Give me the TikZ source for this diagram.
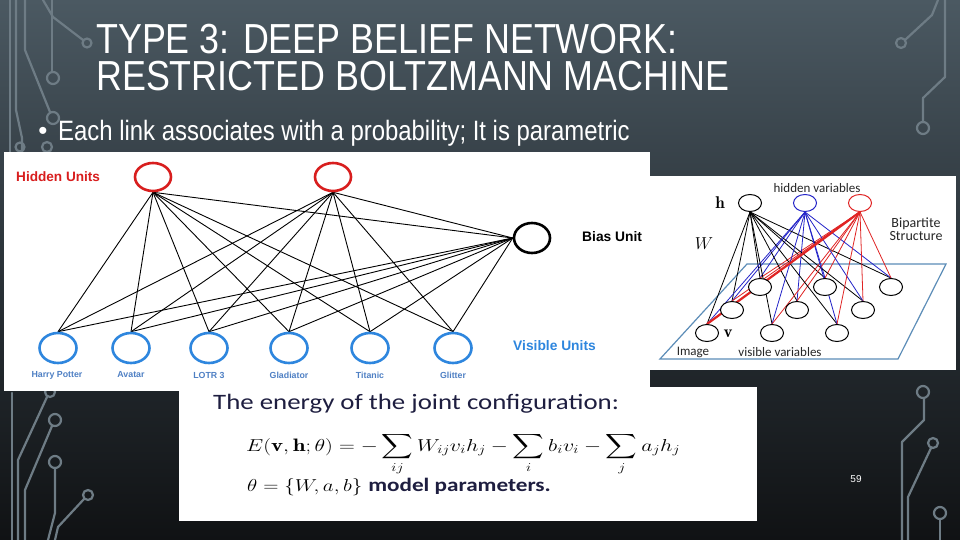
\documentclass[tikz,border=0pt]{standalone}
\usepackage{amsmath}
\usepackage{fontspec}
\newfontfamily\arialf{Liberation Sans}
\newfontfamily\narrowsans[FakeStretch=0.854]{Liberation Sans}
\newfontfamily\calib{Carlito}
\usetikzlibrary{shapes.geometric}
\definecolor{bgtop}{HTML}{4B5962}
\definecolor{bgmid}{HTML}{2A3238}
\definecolor{bgbot}{HTML}{101214}
\definecolor{trace}{HTML}{6E7C85}
\definecolor{hidred}{HTML}{D81E1E}
\definecolor{visblue}{HTML}{2E86DE}
\definecolor{labblue}{HTML}{4F80C4}
\definecolor{planeblue}{HTML}{5C8DB8}
\definecolor{rbmblue}{HTML}{2424C8}
\definecolor{rbmred}{HTML}{E02424}
\definecolor{navy}{HTML}{1E1E40}
\pgfdeclarelayer{back}
\pgfdeclarelayer{lines}
\pgfsetlayers{back,lines,main}
\newcommand\hstretch[1]{\scalebox{1.22}[1]{#1}}
\tikzset{
  ttl/.style={anchor=north west, inner sep=0, align=left, text=white, font=\narrowsans\fontsize{42}{37}\selectfont},
  bullettxt/.style={anchor=base west, inner sep=0, text=white, font=\narrowsans\fontsize{28}{28}\selectfont},
  trc/.style={draw=trace, line width=2.2pt, line cap=round, line join=round},
  whitebox/.style={fill=white, draw=none},
  hidunit/.style={ellipse, draw=hidred, line width=2.6pt, minimum width=36pt, minimum height=28pt, inner sep=0},
  visunit/.style={ellipse, draw=visblue, line width=2.6pt, minimum width=37pt, minimum height=30pt, inner sep=0},
  biasunit/.style={ellipse, draw=black, line width=2.6pt, minimum width=36pt, minimum height=30pt, inner sep=0},
  edge/.style={draw=black, line width=0.9pt},
  movielab/.style={text=labblue, font=\arialf\bfseries\fontsize{8.8}{9}\selectfont, inner sep=0},
  rbmnode/.style={ellipse, fill=white, line width=1pt, minimum width=23pt, minimum height=17pt, inner sep=0},
  rbmtxt/.style={text=black!85, font=\calib\fontsize{13}{13.5}\selectfont, inner sep=0},
  redge/.style={line width=0.8pt},
}
\begin{document}
\begin{tikzpicture}[x=1pt,y=-1pt]
\useasboundingbox (0,0) rectangle (960,540);
\begin{pgfonlayer}{back}
  \shade[top color=bgtop, bottom color=bgbot, middle color=bgmid] (0,0) rectangle (960,540);
  % circuit traces, top left
  \draw[trc] (10,0) -- (10,152);
  \draw[trc] (16,0) -- (16,110) -- (22,138) -- (22,152);
  \draw[trc] (25,0) -- (25,50) -- (50,112);
  \draw[trc] (53,118) circle[radius=6];
  \draw[trc] (43,0) -- (53,17) -- (83,40);
  \draw[trc] (87,43) circle[radius=4.5];
  \draw[trc] (52,0) -- (52,72);
  \draw[trc] (53,78) circle[radius=6];
  \draw[trc] (20,147) circle[radius=4.5];
  \draw[trc] (47,147) circle[radius=5];
  % bottom left
  \draw[trc] (12,393) -- (12,540);
  \draw[trc] (50,392) circle[radius=5];
  \draw[trc] (47,397) -- (18,460) -- (18,540);
  \draw[trc] (55,420) circle[radius=6];
  \draw[trc] (52,426) -- (25,490) -- (25,540);
  \draw[trc] (55,462) circle[radius=6];
  \draw[trc] (55,468) -- (55,513) -- (48,540);
  \draw[trc] (88,495) circle[radius=5];
  \draw[trc] (84,499) -- (58,527) -- (55,540);
  % top right
  \draw[trc] (938,0) -- (932,15) -- (905,40);
  \draw[trc] (901,43) circle[radius=5];
  \draw[trc] (945,0) -- (945,77) -- (923,98) -- (923,122);
  \draw[trc] (923,128) circle[radius=6];
  % bottom right
  \draw[trc] (923,392) circle[radius=6];
  \draw[trc] (924,398) -- (924,420) -- (902,442) -- (902,540);
  \draw[trc] (933,443) circle[radius=5];
  \draw[trc] (931,448) -- (908,497) -- (908,540);
  \draw[trc] (940,513) circle[radius=6];
  \draw[trc] (940,519) -- (940,540);
  % white picture panels
  \fill[whitebox] (4,152) rectangle (650,391);
  \fill[whitebox] (650,176) rectangle (956,370);
  \fill[whitebox] (179,387) rectangle (757,521);
  % plane of the RBM sketch
  \draw[draw=planeblue, line width=1.2pt] (747,264) -- (946,264) -- (898,359) -- (660,359) -- cycle;
\end{pgfonlayer}

% title and bullet
\node[ttl] (title) at (96,24) {TYPE 3: DEEP BELIEF NETWORK:\\RESTRICTED BOLTZMANN MACHINE};
\node[text=white, font=\arialf\fontsize{26}{26}\selectfont, inner sep=0] (bul) at (43,133) {•};
\node[bullettxt] (btxt) at (58,141) {Each link associates with a probability; It is parametric};

% ---------- panel 1: movie RBM ----------
\node[hidunit] (h1) at (153,177) {};
\node[hidunit] (h2) at (333,177) {};
\node[biasunit] (bu) at (532,238) {};
\node[visunit] (v1) at (58,348) {};
\node[visunit] (v2) at (131,348) {};
\node[visunit] (v3) at (209,348) {};
\node[visunit] (v4) at (289,348) {};
\node[visunit] (v5) at (370,348) {};
\node[visunit] (v6) at (453,348) {};
\node[movielab] (l1) at (57,375) {Harry Potter};
\node[movielab] (l2) at (131,375) {Avatar};
\node[movielab] (l3) at (209,375) {LOTR 3};
\node[movielab] (l4) at (289,375) {Gladiator};
\node[movielab] (l5) at (370,375) {Titanic};
\node[movielab] (l6) at (453,375) {Glitter};
\node[anchor=west, inner sep=0, text=hidred, font=\arialf\bfseries\fontsize{13.6}{14}\selectfont] (hl) at (16,177) {Hidden Units};
\node[anchor=west, inner sep=0, text=black, font=\arialf\bfseries\fontsize{13.8}{14}\selectfont] (bl) at (582,237) {Bias Unit};
\node[anchor=west, inner sep=0, text=visblue, font=\arialf\bfseries\fontsize{13.8}{14}\selectfont] (vl) at (513,346) {Visible Units};
\begin{pgfonlayer}{lines}
  \foreach \h in {h1,h2}{
    \foreach \v in {v1,v2,v3,v4,v5,v6}{
      \draw[edge] (\h.south) -- (\v.north);
    }
    \draw[edge] (\h.south) -- (bu.west);
  }
  \foreach \v in {v1,v2,v3,v4,v5,v6}{
    \draw[edge] (bu.west) -- (\v.north);
  }
\end{pgfonlayer}

% ---------- panel 2: bipartite sketch ----------
\node[rbmnode, draw=black] (hk) at (750,203) {};
\node[rbmnode, draw=rbmblue] (hu) at (805,203) {};
\node[rbmnode, draw=rbmred] (hr) at (860,203) {};
\node[rbmnode, draw=black] (a1) at (760,287) {};
\node[rbmnode, draw=black] (a2) at (825,287) {};
\node[rbmnode, draw=black] (a3) at (891,287) {};
\node[rbmnode, draw=black] (b1) at (732,310) {};
\node[rbmnode, draw=black] (b2) at (797,310) {};
\node[rbmnode, draw=black] (b3) at (863,310) {};
\node[rbmnode, draw=black] (c1) at (707,333) {};
\node[rbmnode, draw=black] (c2) at (772,333) {};
\node[rbmnode, draw=black] (c3) at (837,333) {};
\begin{pgfonlayer}{lines}
  \foreach \v in {a1,a2,a3,b1,b2,b3,c1,c2,c3}{
    \draw[redge, draw=black] (hk.south) -- (\v.north);
    \draw[redge, draw=rbmblue] (hu.south) -- (\v.north);
    \draw[redge, draw=rbmred] (hr.south) -- (\v.north);
  }
  \draw[draw=rbmred, line width=2.2pt] (hr.south) -- (c1.north);
\end{pgfonlayer}
\node[rbmtxt] (hvl) at (817,188) {hidden variables};
\node[inner sep=0, font=\fontsize{17}{17}\selectfont] (hsym) at (720,203) {$\mathbf{h}$};
\node[inner sep=0, font=\fontsize{18}{18}\selectfont] (wsym) at (704,244) {$W$};
\node[rbmtxt, align=center, font=\calib\fontsize{14}{13.5}\selectfont] (bip) at (916,229) {Bipartite\\Structure};
\node[inner sep=0, font=\fontsize{17}{17}\selectfont] (vsym) at (728,334) {$\mathbf{v}$};
\node[rbmtxt] (iml) at (693,352) {Image};
\node[rbmtxt] (vvl) at (780,352) {visible variables};

% ---------- panel 3: energy ----------
\node[anchor=base west, inner sep=0, text=navy, font=\calib\fontsize{22}{24}\selectfont] (en) at (213,409) {\hstretch{The energy of the joint configuration:}};
\node[anchor=base west, inner sep=0, font=\fontsize{18}{22}\selectfont] (eq) at (246,451)
  {\resizebox{434pt}{\height}{$\displaystyle E(\mathbf{v},\mathbf{h};\theta) = -\sum_{ij} W_{ij}v_ih_j - \sum_i b_iv_i - \sum_j a_jh_j$}};
\node[anchor=base west, inner sep=0, font=\fontsize{16}{20}\selectfont] (th) at (247,491)
  {\hstretch{$\theta = \{W, a, b\}$\ {\calib\bfseries\color{navy}\fontsize{19}{20}\selectfont model parameters.}}};

% page number
\node[text=white, font=\arialf\fontsize{10}{10}\selectfont, inner sep=0] (pn) at (856,479) {59};
\end{tikzpicture}
\end{document}
